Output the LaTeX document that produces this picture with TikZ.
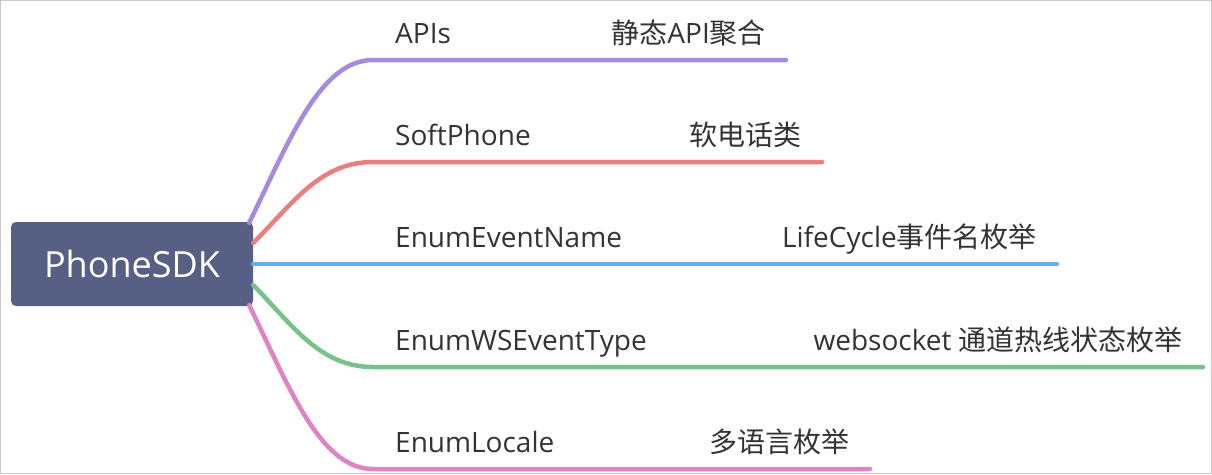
\documentclass[tikz,border=0pt]{standalone}
\usepackage{fontspec}
\setmainfont{Open Sans}
\newfontfamily\cjk{Noto Sans CJK SC}
\usepackage{tikz}
\usetikzlibrary{calc}
\definecolor{rootblue}{RGB}{87,95,133}
\definecolor{textgray}{RGB}{51,51,51}
\definecolor{framegray}{RGB}{200,200,200}
\definecolor{linepurple}{RGB}{166,138,224}
\definecolor{linered}{RGB}{232,128,128}
\definecolor{lineblue}{RGB}{106,174,230}
\definecolor{linegreen}{RGB}{120,194,138}
\definecolor{linepink}{RGB}{223,130,198}

\begin{document}
\begin{tikzpicture}[x=1pt,y=-1pt,
	root/.style={fill=rootblue,text=white,rounded corners=5pt,minimum width=242pt,minimum height=84pt,inner sep=0pt,font=\fontsize{36}{42}\selectfont},
	topic/.style={text=textgray,anchor=base west,inner sep=0pt,font=\fontsize{28}{34}\selectfont},
	note/.style={topic,anchor=base east},
	branch/.style={line width=4.5pt,line cap=round}]
			\useasboundingbox (0,0) rectangle (1212,474);
			\draw [framegray,line width=1pt] (0.5,0.5) rectangle (1211.5,473.5);
			\node [root] (sdk) at (132,264) {PhoneSDK};
			\coordinate (apis-end) at (786,60);
			\coordinate (softphone-end) at (822,162);
			\coordinate (eventname-end) at (1057,264);
			\coordinate (wstype-end) at (1203,367);
			\coordinate (locale-end) at (870,469);
			\node [topic] (apis) at (395,43) {APIs};
			\node [topic] (softphone) at (395,145) {SoftPhone};
			\node [topic] (eventname) at (395,247) {EnumEventName};
			\node [topic] (wstype) at (395,350) {EnumWSEventType};
			\node [topic] (locale) at (395,452) {EnumLocale};
			\node [note] (apis-note) at ($(apis-end)+(-20,-17)$) {{\cjk 静态}API{\cjk 聚合}};
			\node [note] (softphone-note) at ($(softphone-end)+(-20,-17)$) {\cjk 软电话类};
			\node [note] (eventname-note) at ($(eventname-end)+(-20,-17)$) {LifeCycle{\cjk 事件名枚举}};
			\node [note] (wstype-note) at ($(wstype-end)+(-20,-17)$) {websocket {\cjk 通道热线状态枚举}};
			\node [note] (locale-note) at ($(locale-end)+(-20,-17)$) {\cjk 多语言枚举};
				\draw [branch,linepurple] ($(sdk.north east)+(-4,1)$) .. controls +(40,-82) and +(-53,0) .. ($(apis.west |- apis-end)+(-22,0)$) -- (apis-end);
				\draw [branch,linered] ($(sdk.east)+(0,-21)$) .. controls +(40,-40) and +(-53,0) .. ($(softphone.west |- softphone-end)+(-22,0)$) -- (softphone-end);
				\draw [branch,lineblue] (sdk.east) -- (eventname-end);
				\draw [branch,linegreen] ($(sdk.east)+(0,21)$) .. controls +(40,41) and +(-53,0) .. ($(wstype.west |- wstype-end)+(-22,0)$) -- (wstype-end);
				\draw [branch,linepink] ($(sdk.south east)+(-4,-1)$) .. controls +(40,82) and +(-53,0) .. ($(locale.west |- locale-end)+(-22,0)$) -- (locale-end);
		\end{tikzpicture}
\end{document}
